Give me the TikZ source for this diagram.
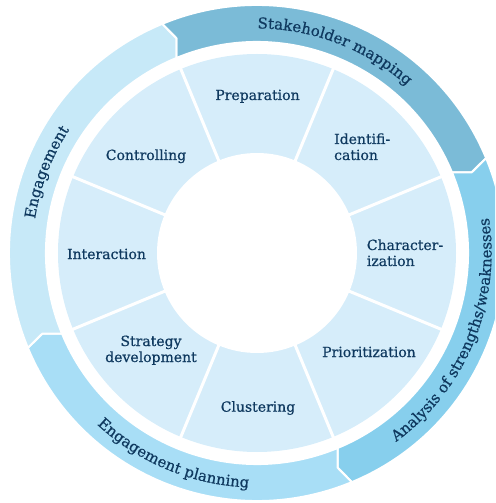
\documentclass[tikz,border=0pt]{standalone}
\usepackage{fontspec}
\setmainfont{DejaVu Serif}[FakeBold=0.6]
\usetikzlibrary{decorations.text}
\definecolor{segc}{RGB}{214,237,250}
\definecolor{stakec}{RGB}{123,187,215}
\definecolor{analc}{RGB}{135,207,237}
\definecolor{planc}{RGB}{168,222,246}
\definecolor{engc}{RGB}{199,233,248}
\definecolor{txt}{RGB}{15,57,95}
\newcommand\lblfont{\fontsize{14}{16}\selectfont}
\newcommand\arcfont{\fontsize{15}{17}\selectfont}
\newcommand\twoleft[2]{\vtop{\baselineskip=16pt\hbox{#1}\hbox{#2}}}
\newcommand\twocenter[2]{\vtop{\baselineskip=16pt\halign{\hfil##\hfil\cr #1\cr #2\cr}}}
\newcommand\ringpiece[2]{%
  \filldraw[fill=#2, draw=white, line width=2pt, line join=miter]
   (#1:248pt) arc[start angle=#1, end angle=#1-90, radius=248pt]
   -- ({#1-91.9}:229.5pt) -- ({#1-90}:211pt)
   arc[start angle=#1-90, end angle=#1, radius=211pt]
   -- ({#1-1.9}:229.5pt) -- cycle;}
\tikzset{
  lbl/.style={inner sep=0pt, text=txt, font=\lblfont},
  arctext/.style={decorate, decoration={text along path, text align=center,
      text color=txt, text={|\arcfont|#1}}}
}
\begin{document}
\begin{tikzpicture}
\useasboundingbox (-257pt,-250pt) rectangle (238pt,253pt);
\clip (-257pt,-250pt) rectangle (238pt,253pt);
% outer ring
\ringpiece{112.5}{stakec}
\ringpiece{22.5}{analc}
\ringpiece{-67.5}{planc}
\ringpiece{202.5}{engc}
% arc labels
\path[arctext={Stakeholder mapping}] (114:224.5pt) arc[start angle=114, end angle=24, radius=224.5pt];
\path[arctext={Engagement}] (204:224.5pt) arc[start angle=204, end angle=114, radius=224.5pt];
\path[arctext={Analysis of strengths/weaknesses}] (-67.5:234.5pt) arc[start angle=-67.5, end angle=22.5, radius=234.5pt];
\path[arctext={Engagement planning}] (202.5:234.5pt) arc[start angle=202.5, end angle=292.5, radius=234.5pt];
% segment ring
\fill[segc] (0,0) circle[radius=199pt];
\fill[white] (0,0) circle[radius=100pt];
\foreach \a in {22.5,67.5,...,337.5}
  \draw[white, line width=3pt] (\a:97pt) -- (\a:201pt);
% segment labels
\node[lbl, anchor=base] (prep) at (0.5pt,153pt) {Preparation};
\node[lbl, anchor=base west] (ident) at (77pt,109pt) {\twoleft{Identifi-}{cation}};
\node[lbl, anchor=base west] (charac) at (109.7pt,3pt) {\twoleft{Character-}{ization}};
\node[lbl, anchor=base] (prio) at (112pt,-104pt) {Prioritization};
\node[lbl, anchor=base] (clus) at (1pt,-158.7pt) {Clustering};
\node[lbl, anchor=base] (strat) at (-106pt,-93pt) {\twocenter{Strategy}{development}};
\node[lbl, anchor=base] (inter) at (-150.5pt,-6pt) {Interaction};
\node[lbl, anchor=base] (contr) at (-111pt,93pt) {Controlling};
\end{tikzpicture}
\end{document}
